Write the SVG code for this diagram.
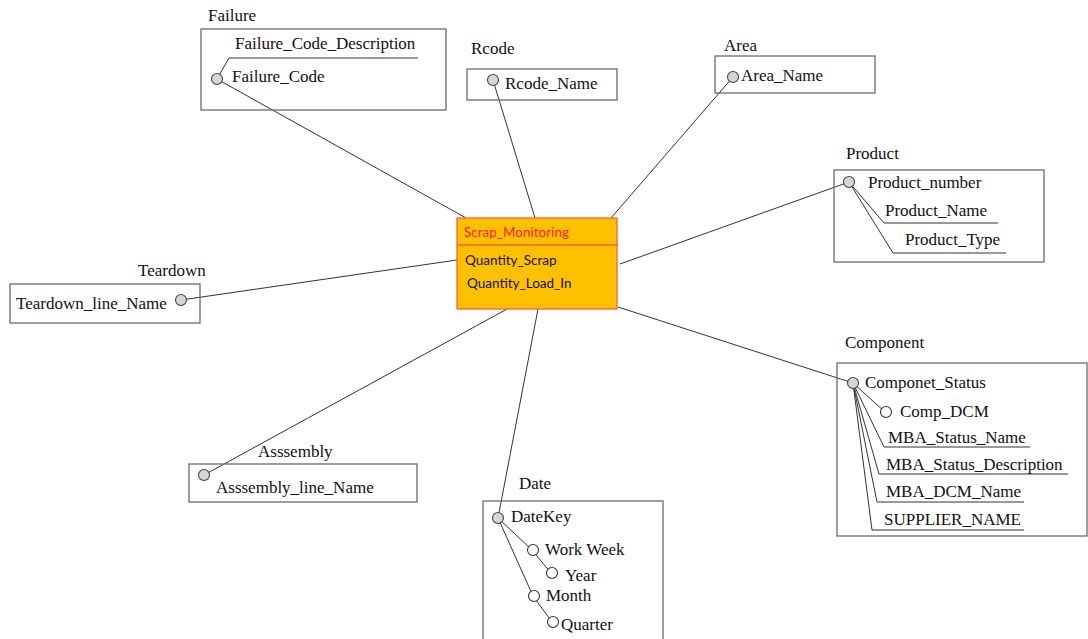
<svg xmlns="http://www.w3.org/2000/svg" width="1088" height="639" viewBox="0 0 1088 639">
  <style>
    .box { fill: none; stroke: #6b6b6b; stroke-width: 1.3; }
    .t { font-family: "Liberation Serif", "Times New Roman", serif; font-size: 17px; fill: #111; }
    .ln { stroke: #333; stroke-width: 1; fill: none; }
    .key { fill: #d6d6d6; stroke: #444; stroke-width: 1.1; }
    .att { fill: #ffffff; stroke: #333; stroke-width: 1.1; }
    .fact { fill: #ffc000; stroke: #f4623a; stroke-width: 1.3; }
    .ft { font-family: Lato, "Liberation Sans", sans-serif; font-size: 13.5px; fill: #111; }
  </style>
  <rect width="1088" height="639" fill="#ffffff"/>

  <!-- links from the fact table to each dimension key -->
  <g id="connectors" class="ln">
    <line x1="217" y1="79" x2="466" y2="218"/>
    <line x1="493" y1="80" x2="535" y2="218"/>
    <line x1="733" y1="77" x2="611" y2="218"/>
    <line x1="849" y1="182" x2="620" y2="264"/>
    <line x1="853" y1="383" x2="618" y2="307"/>
    <line x1="498" y1="518" x2="538" y2="309"/>
    <line x1="204" y1="475" x2="507" y2="309"/>
    <line x1="181" y1="300" x2="457" y2="260"/>
  </g>

  <g id="scrap_monitoring">
    <rect class="fact" x="457" y="218" width="160" height="91"/>
    <line x1="457" y1="245" x2="618" y2="245" stroke="#f4623a" stroke-width="1.3"/>
    <text class="ft" x="464" y="237" style="fill:#ff1a1a">Scrap_Monitoring</text>
    <text class="ft" x="465" y="265">Quantity_Scrap</text>
    <text class="ft" x="467" y="288">Quantity_Load_In</text>
  </g>

  <g id="failure">
    <text class="t" x="208" y="21">Failure</text>
    <rect class="box" x="201" y="29" width="245" height="81"/>
    <text class="t" x="235" y="49">Failure_Code_Description</text>
    <polyline class="ln" points="217,79 229,58 418,58"/>
    <circle class="key" cx="217" cy="79" r="5.5"/>
    <text class="t" x="232" y="82">Failure_Code</text>
  </g>

  <g id="rcode">
    <text class="t" x="471" y="54">Rcode</text>
    <rect class="box" x="467" y="69" width="150" height="31"/>
    <circle class="key" cx="493" cy="80" r="5.5"/>
    <text class="t" x="505" y="89">Rcode_Name</text>
  </g>

  <g id="area">
    <text class="t" x="724" y="51">Area</text>
    <rect class="box" x="715" y="56" width="160" height="37"/>
    <circle class="key" cx="733" cy="77" r="5.5"/>
    <text class="t" x="741" y="81">Area_Name</text>
  </g>

  <g id="product">
    <text class="t" x="846" y="159">Product</text>
    <rect class="box" x="834" y="170" width="210" height="92"/>
    <polyline class="ln" points="849,182 884,223 998,223"/>
    <polyline class="ln" points="849,182 893,253 1006,253"/>
    <circle class="key" cx="849" cy="182" r="5.5"/>
    <text class="t" x="868" y="188">Product_number</text>
    <text class="t" x="885" y="216">Product_Name</text>
    <text class="t" x="905" y="245">Product_Type</text>
  </g>

  <g id="component">
    <text class="t" x="845" y="348">Component</text>
    <rect class="box" x="837" y="363" width="250" height="173"/>
    <line class="ln" x1="853" y1="383" x2="885" y2="412"/>
    <polyline class="ln" points="853,383 884,447 1030,447"/>
    <polyline class="ln" points="853,383 879,474 1068,474"/>
    <polyline class="ln" points="853,383 877,502 1024,502"/>
    <polyline class="ln" points="853,383 872,530 1024,530"/>
    <circle class="key" cx="853" cy="383" r="5.5"/>
    <circle class="att" cx="886" cy="412" r="5.5"/>
    <text class="t" x="865" y="388">Componet_Status</text>
    <text class="t" x="900" y="417">Comp_DCM</text>
    <text class="t" x="888" y="443">MBA_Status_Name</text>
    <text class="t" x="886" y="470">MBA_Status_Description</text>
    <text class="t" x="886" y="497">MBA_DCM_Name</text>
    <text class="t" x="884" y="525">SUPPLIER_NAME</text>
  </g>

  <g id="date">
    <text class="t" x="519" y="489">Date</text>
    <rect class="box" x="483" y="501" width="180" height="150"/>
    <polyline class="ln" points="498,518 532,550 551,573"/>
    <polyline class="ln" points="498,518 533,596 552,622"/>
    <circle class="key" cx="498" cy="518" r="5.5"/>
    <circle class="att" cx="533" cy="550" r="5.5"/>
    <circle class="att" cx="552" cy="573" r="5.5"/>
    <circle class="att" cx="534" cy="596" r="5.5"/>
    <circle class="att" cx="553" cy="622" r="5.5"/>
    <text class="t" x="511" y="522">DateKey</text>
    <text class="t" x="545" y="555">Work Week</text>
    <text class="t" x="565" y="581">Year</text>
    <text class="t" x="546" y="601">Month</text>
    <text class="t" x="561" y="630">Quarter</text>
  </g>

  <g id="teardown">
    <text class="t" x="138" y="276">Teardown</text>
    <rect class="box" x="10" y="284" width="190" height="39"/>
    <text class="t" x="16" y="309">Teardown_line_Name</text>
    <circle class="key" cx="181" cy="300" r="5.5"/>
  </g>

  <g id="assembly">
    <text class="t" x="258" y="457">Asssembly</text>
    <rect class="box" x="189" y="464" width="228" height="38"/>
    <circle class="key" cx="204" cy="475" r="5.5"/>
    <text class="t" x="216" y="493">Asssembly_line_Name</text>
  </g>
</svg>
